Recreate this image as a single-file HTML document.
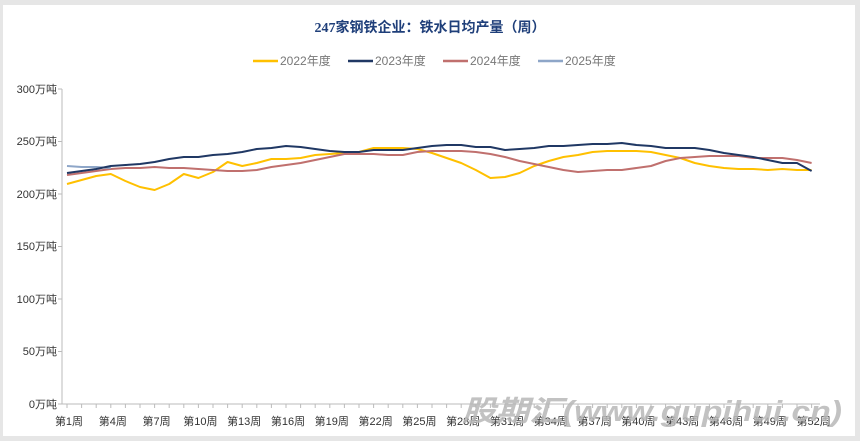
<!DOCTYPE html><html><head><meta charset="utf-8"><style>
body{margin:0;background:#e6e6e6;width:860px;height:441px;overflow:hidden;font-family:"Liberation Sans","Noto Sans CJK SC",sans-serif}
</style></head><body>
<svg width="860" height="441" style="position:absolute;left:0;top:0">
<rect x="3" y="5" width="852" height="431" fill="#fff"/>
<text x="430" y="32" text-anchor="middle" font-size="14" font-weight="bold" fill="#1f3f7a" font-family="Liberation Serif,Noto Sans CJK SC,serif">247家钢铁企业：铁水日均产量（周）</text>
<g font-size="12" fill="#777">
<line x1="253" y1="61" x2="278" y2="61" stroke="#ffc000" stroke-width="2.5"/><text x="280" y="65">2022年度</text>
<line x1="348" y1="61" x2="373" y2="61" stroke="#203864" stroke-width="2.5"/><text x="375" y="65">2023年度</text>
<line x1="443" y1="61" x2="468" y2="61" stroke="#c0706e" stroke-width="2.5"/><text x="470" y="65">2024年度</text>
<line x1="538" y1="61" x2="563" y2="61" stroke="#8ea6c8" stroke-width="2.5"/><text x="565" y="65">2025年度</text>
</g>
<g font-size="11" fill="#333" text-anchor="end">
<text x="57" y="93">300万吨</text><text x="57" y="145">250万吨</text><text x="57" y="198">200万吨</text><text x="57" y="250">150万吨</text><text x="57" y="303">100万吨</text><text x="57" y="355">50万吨</text><text x="57" y="408">0万吨</text>
</g>
<g stroke="#bbb" stroke-width="1">
<line x1="62" y1="89" x2="62" y2="404"/>
<line x1="58" y1="89" x2="62" y2="89"/><line x1="58" y1="141.5" x2="62" y2="141.5"/><line x1="58" y1="194" x2="62" y2="194"/><line x1="58" y1="246.5" x2="62" y2="246.5"/><line x1="58" y1="299" x2="62" y2="299"/><line x1="58" y1="351.5" x2="62" y2="351.5"/>
<line x1="58" y1="404" x2="820" y2="404"/>
</g>
<g id="ticks" font-size="11" fill="#333" text-anchor="middle"></g>
<g fill="none" stroke-width="2" stroke-linejoin="round">
<polyline id="s22" stroke="#ffc000"/><polyline id="s24" stroke="#c0706e"/><polyline id="s25" stroke="#8ea6c8"/><polyline id="s23" stroke="#203864"/>
</g>
<text x="462" y="421" font-size="29" font-weight="bold" font-style="italic" fill="#b8b8b8" opacity="0.85" textLength="380" lengthAdjust="spacingAndGlyphs">股期汇(www.gupihui.cn)</text>
</svg>
<script>
var d={s22:[184,180,176,174,181,187,190,184,174,178,172,162,166,163,159,159,158,155,154,153,152,148,148,148,149,153,158,163,170,178,177,173,166,161,157,155,152,151,151,151,152,155,158,163,166,168,169,169,170,169,170,170],
s23:[173,171,169,166,165,164,162,159,157,157,155,154,152,149,148,146,147,149,151,152,152,150,150,150,148,146,145,145,147,147,150,149,148,146,146,145,144,144,143,145,146,148,148,148,150,153,155,157,160,163,163,171],
s24:[175,173,171,169,168,168,167,168,168,169,170,171,171,170,167,165,163,160,157,154,154,154,155,155,152,151,151,151,152,154,157,161,164,167,170,172,171,170,170,168,166,161,158,157,156,156,156,158,158,158,160,163],
s25:[166,167,167,168]};
for(var k in d){document.getElementById(k).setAttribute('points',d[k].map(function(y,i){return (67+i*14.6).toFixed(1)+','+y}).join(' '));}
var g=document.getElementById('ticks'),s='';
for(var i=0;i<52;i++){var x=67+i*14.6;s+='<line x1="'+x+'" y1="404" x2="'+x+'" y2="408" stroke="#bbb"/>';if(i%3==0)s+='<text x="'+(x+2)+'" y="425">第'+(i+1)+'周</text>';}
g.innerHTML=s;
</script>
</body></html>
